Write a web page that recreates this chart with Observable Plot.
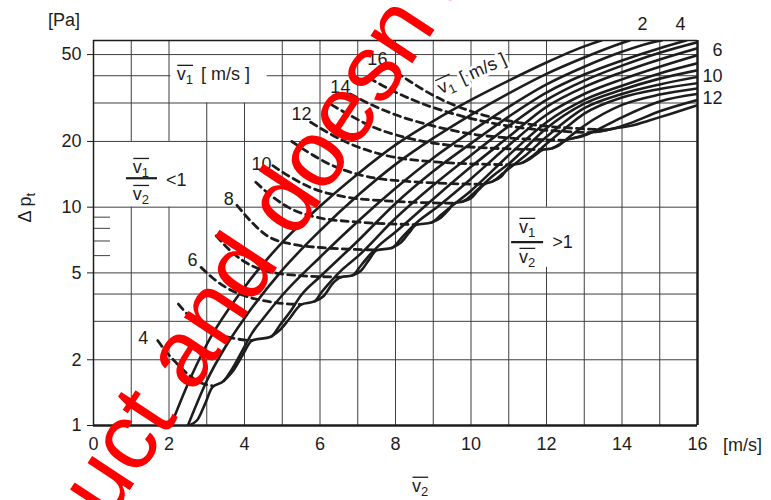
<!DOCTYPE html>
<html>
<head>
<meta charset="utf-8">
<script src="https://cdn.jsdelivr.net/npm/d3@7"></script>
<script src="https://cdn.jsdelivr.net/npm/@observablehq/plot@0.6"></script>
<style>
  html, body { margin: 0; padding: 0; background: #fff; }
  #chart { width: 771px; height: 500px; overflow: hidden; }
  #chart svg { display: block; }
</style>
</head>
<body>
<div id="chart"></div>
<script>
// ---------------- data ----------------
// solid curves: v1 = 2 ... 16  (x = v2 [m/s], y = Δpt [Pa])
const v1Solid = [2,3,4,5,6,7,8,9,10,11,12,13,14,15,16];
const s2  = [[2.05,1],[2.5,1.55],[3,2.35],[4,4.3],[5,6.9],[6,10.1],[7,14.2],[8,19.3],[9,24.8],[10,31],[11,38],[12,46],[13,54.5],[13.45,58]];
const s3  = [[2.5,1],[3,1.6],[3.5,2.3],[4,3.1],[5,5.15],[6,7.8],[7,11.3],[8,15.7],[9,20.7],[10,26.5],[11,33.2],[12,40.8],[13,48.5],[14,56.5],[14.2,58]];
const s4  = [[2.5,1],[2.75,1.06],[2.95,1.25],[3.15,1.5],[3.45,1.6],[3.7,1.85],[4,2.3],[4.2,2.65],[4.5,3.1],[5,3.95],[6,5.9],[7,8.6],[8,12.2],[9,16.8],[10,22.2],[11,28.8],[12,36.5],[13,44],[14,51.5],[15,57.8],[15.05,58]];
const s5  = [[3.45,1.6],[3.7,1.78],[3.95,2.1],[4.2,2.45],[4.7,2.55],[4.95,2.9],[5.2,3.3],[5.5,3.95],[6,4.8],[7,7.0],[8,10.4],[9,14.6],[10,19.6],[11,26],[12,33.5],[13,40.5],[14,47],[15,53.5],[15.7,58]];
const s6  = [[4.7,2.55],[4.95,2.75],[5.2,3.1],[5.5,3.58],[5.85,3.7],[6.05,4.1],[6.3,4.6],[6.6,5.2],[7,5.95],[8,8.9],[9,12.6],[10,17.3],[11,23.5],[12,31],[13,38],[14,44.5],[15,51],[16,57]];
const s7  = [[5.85,3.7],[6.1,3.92],[6.35,4.5],[6.55,4.78],[6.85,4.86],[7.1,5.45],[7.3,6.0],[7.55,6.65],[8,7.7],[9,10.9],[10,15.3],[11,21],[12,28.8],[13,35.5],[14,41.5],[15,47.5],[16,53.5]];
const s8  = [[6.85,4.86],[7.1,5.15],[7.3,5.75],[7.5,6.35],[7.9,6.5],[8.15,7.2],[8.4,8.0],[8.65,8.75],[9,9.7],[10,13.5],[11,19.2],[12,26.5],[13,33],[14,38.5],[15,44],[16,49.7]];
const s9  = [[7.9,6.5],[8.15,6.9],[8.35,7.6],[8.55,8.3],[8.95,8.5],[9.2,9.2],[9.45,10.0],[9.7,10.8],[10,11.9],[11,17.3],[12,24.5],[13,31],[14,36],[15,41],[16,45.6]];
const s10 = [[8.95,8.5],[9.2,8.95],[9.4,9.7],[9.55,10.4],[9.8,10.65],[10.05,11.5],[10.3,12.6],[10.6,14.0],[11,15.8],[12,23],[13,29.8],[14,34.5],[15,38.8],[16,42.4]];
const s11 = [[9.8,10.65],[10.0,11.0],[10.2,12.0],[10.35,12.7],[10.6,13.2],[10.85,14.3],[11.1,15.5],[11.4,17.0],[12,21.0],[13,28.4],[14,33],[15,36.5],[16,39.5]];
const s12 = [[10.6,13.2],[10.8,13.8],[10.95,14.9],[11.1,15.6],[11.35,15.95],[11.6,17.0],[12,19.5],[12.5,23.0],[13,26.8],[14,31.8],[15,34.8],[16,37]];
const s13 = [[11.35,15.95],[11.55,16.6],[11.75,17.6],[11.9,18.3],[12.15,18.6],[12.4,19.7],[12.7,21.6],[13,23.6],[14,29.4],[15,32.8],[16,35]];
const s14 = [[12.15,18.6],[12.35,19.3],[12.5,20.2],[12.65,20.6],[12.9,21.0],[13.2,22.0],[13.6,23.8],[14,25.8],[15,30.5],[16,33]];
const s15 = [[12.7,20.7],[12.95,21.3],[13.15,21.9],[13.45,22.3],[13.8,23.0],[14.2,24.2],[15,27.5],[16,31]];
const s16 = [[13.3,22.1],[13.6,22.6],[13.9,23.1],[14.3,23.7],[14.7,24.9],[15.3,26.8],[16,29.3]];
const solidCurves = [s2,s3,s4,s5,s6,s7,s8,s9,s10,s11,s12,s13,s14,s15,s16];

// dashed curves: v1 = 4 ... 16
const v1Dashed = [4,5,6,7,8,9,10,11,12,13,14,15,16];
const d4  = [[1.7,2.45],[1.95,2.15],[2.2,1.93],[2.5,1.72],[2.8,1.58],[3.15,1.52]];
const d5  = [[2.25,3.6],[2.55,3.15],[2.9,2.82],[3.3,2.62],[3.75,2.5],[4.2,2.45]];
const d6  = [[2.85,5.3],[3.15,4.75],[3.5,4.3],[4.0,3.93],[4.7,3.68],[5.5,3.58]];
const d7  = [[3.25,7.4],[3.55,6.5],[3.95,5.7],[4.5,5.15],[5.4,4.87],[6.55,4.78]];
const d8  = [[3.8,10.2],[4.2,8.5],[4.6,7.4],[5.2,6.8],[6.2,6.5],[7.5,6.37]];
const d9  = [[4.3,13],[4.7,11.3],[5.2,9.9],[5.9,9.0],[7.0,8.55],[8.55,8.32]];
const d10 = [[4.75,15.5],[5.2,13.8],[5.8,12.2],[6.6,11.2],[7.9,10.65],[9.55,10.42]];
const d11 = [[5.25,20],[5.7,17.8],[6.3,15.6],[7.1,14.0],[8.4,13.1],[10.35,12.72]];
const d12 = [[5.75,24.5],[6.2,22],[6.8,19.5],[7.6,17.5],[8.9,16.2],[11.1,15.62]];
const d13 = [[6.3,29.5],[6.8,26.3],[7.4,23.3],[8.2,21],[9.6,19.1],[11.9,18.32]];
const d14 = [[6.8,33],[7.3,29.8],[8.0,26.5],[8.9,23.8],[10.3,21.3],[12.5,20.22]];
const d15 = [[7.3,39],[7.8,35],[8.5,30.8],[9.4,27.2],[10.7,24],[13.15,21.92]];
const d16 = [[7.75,44.5],[8.3,38.5],[9.0,32.5],[10.0,27.5],[11.4,24.2],[13.6,22.62]];
const dashedCurves = [d4,d5,d6,d7,d8,d9,d10,d11,d12,d13,d14,d15,d16];

// axes
const xTicks = [0,2,4,6,8,10,12,14,16];
const yTicks = [1,2,5,10,20,50];
const yMinorTicks = [6,7,8,9];
// grid segments of the printed chart: [x, yFrom, yTo] and [y, xFrom, xTo]
const gridV = [[1,1,10],[1,20,58],[2,1,10],[2,20,58],[3,1,30],[4,1,30],[5,1,58],[6,1,58],[7,1,58],[8,1,58],
               [9,1,58],[10,1,58],[11,1,58],[12,1,5.3],[12,10,58],[13,1,58],[14,1,58],[15,1,58]];
const gridH = [[2,0,16],[3,0,16],[4,0,16],[5,0,16],[10,0,16],[20,0,16],[30,0,16],[40,0,2.05],[40,4.6,16],[50,0,16]];

// curve labels (text, x, y in data units)
const dashedLabels = ["4","6","8","10","12","14","16"];
const dashedLabelX = [1.32,2.62,3.58,4.45,5.51,6.54,7.52];
const dashedLabelY = [2.5,5.7,10.85,15.8,26.6,35.4,47.5];
const solidLabels = ["2","4","6","10","12"];
const solidLabelX = [14.54,15.55,16.53,16.4,16.4];
const solidLabelY = [69,69,52.3,39.6,31.4];

// watermark text seen across the picture (its visible part)
const watermark = "uct and doesn't";

// ---------------- build ----------------
const FONT = "'Liberation Sans', Arial, Helvetica, sans-serif";
const INK = "#1d1d1d";
const GRID = "#3f3f3f";

const solidRows = solidCurves.flatMap((c, i) => c.map(([x, y]) => ({v1: v1Solid[i], x, y})));
const dashedRows = dashedCurves.flatMap((c, i) => c.map(([x, y]) => ({v1: v1Dashed[i], x, y})));
const gridVRows = gridV.map(([x, y1, y2]) => ({x, y1, y2}));
const gridHRows = gridH.map(([y, x1, x2]) => ({y, x1, x2}));
const dashedLabelRows = dashedLabels.map((t, i) => ({t, x: dashedLabelX[i], y: dashedLabelY[i]}));
const solidLabelRows = solidLabels.map((t, i) => ({t, x: solidLabelX[i], y: solidLabelY[i]}));

const plot = Plot.plot({
  width: 771,
  height: 500,
  marginTop: 40,
  marginRight: 74,
  marginBottom: 75,
  marginLeft: 93,
  x: {domain: [0, 16], label: null},
  y: {type: "log", domain: [1, 58], label: null},
  style: {fontFamily: FONT, fontSize: "18px", color: INK, background: "#fff", overflow: "visible"},
  marks: [
    Plot.ruleX(gridVRows, {x: "x", y1: "y1", y2: "y2", stroke: GRID, strokeWidth: 1}),
    Plot.ruleY(gridHRows, {y: "y", x1: "x1", x2: "x2", stroke: GRID, strokeWidth: 1}),
    Plot.ruleY(yMinorTicks, {y: d => d, x1: 0, x2: 0.45, stroke: GRID, strokeWidth: 1}),
    Plot.line(dashedRows, {x: "x", y: "y", z: "v1", stroke: INK, strokeWidth: 2.8, strokeDasharray: "7,5", curve: "monotone-x", clip: true}),
    Plot.line(solidRows, {x: "x", y: "y", z: "v1", stroke: INK, strokeWidth: 2.6, curve: "monotone-x", clip: true}),
    Plot.ruleX([0], {stroke: INK, strokeWidth: 1.5}),
    Plot.ruleY([58], {stroke: INK, strokeWidth: 1.5}),
    Plot.ruleX([16], {stroke: INK, strokeWidth: 2.5}),
    Plot.ruleY([1], {stroke: INK, strokeWidth: 2.5}),
    Plot.axisX({ticks: xTicks, tickSize: 0, tickPadding: 12, tickFormat: d => String(d), label: null}),
    Plot.axisY({ticks: yTicks, tickSize: 6, tickPadding: 6, tickFormat: d => String(d), label: null}),
    Plot.text(dashedLabelRows, {x: "x", y: "y", text: "t", fill: INK, fontSize: 18}),
    Plot.text(solidLabelRows, {x: "x", y: "y", text: "t", fill: INK, fontSize: 18}),
    Plot.text([watermark], {x: -0.275, y: 0.43, text: d => d, textAnchor: "start", rotate: -56.5, fontSize: 95, fill: "#ff0000"})
  ]
});
document.getElementById("chart").append(plot);

// ---------------- compound labels (overbars, subscripts) ----------------
const sx = plot.scale("x"), sy = plot.scale("y");
const X = v => sx.apply(v), Y = v => sy.apply(v);
const svg = d3.select(plot);
const wm = svg.selectAll("text").filter(function() { return this.textContent === watermark; });
const ann = svg.append("g").attr("font-family", FONT).attr("fill", INK).attr("text-anchor", "start");

function vLabel(parent, x, y, sub, size, anchor, halo) {
  const t = parent.append("text").attr("y", y).attr("font-size", size).attr("text-anchor", "start");
  t.append("tspan").text("v");
  t.append("tspan").attr("font-size", Math.round(size * 0.72)).attr("dy", size * 0.22).text(sub);
  if (halo) t.attr("stroke", "#fff").attr("stroke-width", 6).attr("paint-order", "stroke").attr("stroke-linejoin", "round");
  const w = t.node().getComputedTextLength();
  const x0 = anchor === "middle" ? x - w / 2 : x;
  t.attr("x", x0);
  parent.append("line").attr("x1", x0 + 0.5).attr("x2", x0 + w).attr("y1", y - size * 0.82).attr("y2", y - size * 0.82)
    .attr("stroke", INK).attr("stroke-width", 1.3);
  return {x0, w};
}

// top-left "v1 [ m/s ]"
{
  const bx = X(2.22), by = Y(38);
  const r = vLabel(ann, bx, by, "1", 18, "start");
  ann.append("text").attr("x", r.x0 + r.w + 8).attr("y", by).attr("font-size", 18).text("[ m/s ]");
}
// fraction v1/v2 < 1
{
  const cx = X(1.27), bar = Y(13.5);
  vLabel(ann, cx, bar - 5, "1", 18, "middle");
  ann.append("line").attr("x1", cx - 15).attr("x2", cx + 16).attr("y1", bar).attr("y2", bar).attr("stroke", INK).attr("stroke-width", 2.2);
  vLabel(ann, cx, bar + 22, "2", 18, "middle");
  ann.append("text").attr("x", cx + 25).attr("y", bar + 8).attr("font-size", 18).text("<1");
}
// fraction v1/v2 > 1
{
  const cx = X(11.5), bar = Y(6.88);
  vLabel(ann, cx, bar - 9, "1", 18, "middle");
  ann.append("line").attr("x1", cx - 16).attr("x2", cx + 16).attr("y1", bar).attr("y2", bar).attr("stroke", INK).attr("stroke-width", 2.2);
  vLabel(ann, cx, bar + 21, "2", 18, "middle");
  ann.append("text").attr("x", cx + 25).attr("y", bar + 6).attr("font-size", 18).text(">1");
}
// rotated "v1 [ m/s ]" over the curves
{
  const gx = ann.append("g").attr("transform", `translate(${X(9.22)},${Y(32.7)}) rotate(-25)`);
  const r = vLabel(gx, 0, 0, "1", 18, "start", true);
  gx.append("text").attr("x", r.x0 + r.w + 8).attr("y", 0).attr("font-size", 18)
    .attr("stroke", "#fff").attr("stroke-width", 6).attr("paint-order", "stroke").attr("stroke-linejoin", "round")
    .text("[ m/s ]");
  gx.select("line").raise();
}
// x-axis title v2 and unit
{
  vLabel(ann, X(8.45), Y(1) + 67, "2", 18, "start");
  ann.append("text").attr("x", X(16) + 26).attr("y", Y(1) + 26).attr("font-size", 18).text("[m/s]");
}
// y-axis title Δ pt and unit
{
  const t = ann.append("text").attr("transform", `translate(${X(0) - 62},${Y(9.9)}) rotate(-90)`)
    .attr("text-anchor", "middle").attr("font-size", 18);
  t.append("tspan").text("Δ p");
  t.append("tspan").attr("font-size", 13).attr("dy", 4).text("t");
  ann.append("text").attr("x", X(0) - 45).attr("y", Y(58) - 14).attr("text-anchor", "start").attr("font-size", 18).text("[Pa]");
}
// keep the watermark on top
if (!wm.empty()) { plot.appendChild(wm.node().closest("g")); }
</script>
</body>
</html>
